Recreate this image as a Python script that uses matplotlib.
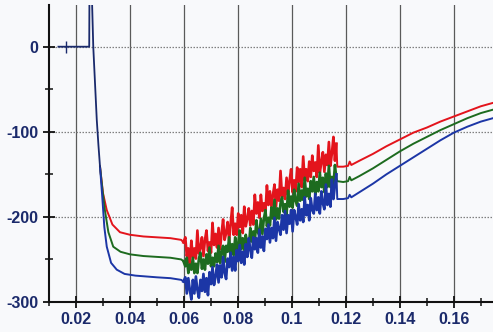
import numpy as np
import matplotlib

matplotlib.use("Agg")
import matplotlib.pyplot as plt
from matplotlib.ticker import MultipleLocator

# 平坦段与尖峰（三条曲线共用）
flat_x = [0.0135, 0.0160, 0.0185, 0.0215, 0.0249, 0.0250, 0.0258, 0.0264, 0.0277, 0.0283, 0.0289]
flat_y = [0, 0, 0, 0, 0, 70, 70, 0, -86, -115, -141]
event_x = [0.0163]

# 下降后的平台段
red_decay_x = [0.0289, 0.0300, 0.0314, 0.0335, 0.0363, 0.040, 0.045, 0.050, 0.055, 0.0590, 0.0598]
red_decay_y = [-141, -172, -192, -209, -218, -221, -223, -224, -225, -227, -230]
green_decay_x = [0.0289, 0.0298, 0.0307, 0.0320, 0.0338, 0.0365, 0.040, 0.045, 0.050, 0.055, 0.0590, 0.0598]
green_decay_y = [-141, -168, -192, -218, -235, -241, -244, -246, -247, -248, -250, -252]
blue_decay_x = [0.0289, 0.0297, 0.0305, 0.0314, 0.0330, 0.0351, 0.0380, 0.042, 0.046, 0.050, 0.055, 0.0590, 0.0598]
blue_decay_y = [-141, -175, -212, -235, -254, -262, -267, -269, -270, -271, -272, -274, -276]

# 噪声段 0.0605 ~ 0.1165（等间隔采样）
noise_start, noise_stop = 0.0605, 0.1165
red_noise = [-224, -246, -237, -255, -228, -247, -237, -249, -216, -243,
             -236, -224, -246, -227, -216, -240, -230, -242, -207, -233,
             -220, -236, -213, -238, -219, -203, -227, -219, -206, -228,
             -208, -189, -221, -208, -221, -196, -212, -198, -219, -188,
             -211, -202, -190, -210, -193, -209, -174, -196, -183, -201,
             -174, -193, -184, -195, -163, -186, -170, -188, -174, -162,
             -188, -168, -181, -146, -176, -166, -179, -154, -174, -157,
             -144, -171, -157, -170, -142, -159, -144, -165, -129, -157,
             -144, -158, -135, -153, -128, -146, -136, -153, -116, -148,
             -136, -124, -147, -127, -139, -112, -140, -125, -106, -134,
             -114]
green_noise = [-258, -248, -266, -256, -262, -248, -266, -255, -266, -249,
               -242, -261, -250, -262, -244, -255, -236, -258, -248, -258,
               -243, -253, -234, -254, -241, -234, -253, -234, -241, -224,
               -245, -232, -245, -224, -239, -231, -216, -238, -225, -239,
               -221, -231, -236, -213, -229, -217, -229, -204, -218, -222,
               -202, -220, -202, -192, -211, -201, -210, -189, -202, -180,
               -203, -190, -202, -184, -177, -194, -185, -197, -169, -188,
               -176, -189, -168, -181, -187, -161, -181, -169, -180, -154,
               -176, -167, -179, -158, -170, -153, -174, -159, -170, -148,
               -165, -154, -171, -149, -165, -140, -165, -153, -163, -139,
               -156]
blue_noise = [-271, -290, -272, -286, -297, -274, -290, -270, -286, -295,
              -274, -287, -267, -288, -272, -292, -265, -279, -259, -280,
              -270, -256, -277, -257, -271, -247, -266, -273, -249, -259,
              -242, -263, -247, -263, -239, -252, -233, -254, -241, -256,
              -232, -247, -225, -239, -248, -224, -238, -225, -242, -215,
              -236, -223, -240, -214, -226, -209, -230, -213, -225, -201,
              -228, -206, -214, -221, -198, -215, -193, -219, -198, -208,
              -192, -217, -192, -200, -209, -185, -204, -191, -206, -177,
              -198, -186, -204, -178, -192, -196, -173, -192, -177, -196,
              -170, -184, -191, -162, -186, -173, -188, -156, -179, -163,
              -150]

# 尾段（平滑上升）
tail_x = [0.1168, 0.1190, 0.1208, 0.1214, 0.1220, 0.125, 0.130, 0.135, 0.140, 0.145, 0.150, 0.155, 0.160, 0.165, 0.170, 0.1745]
red_tail = [-141, -141, -140, -135, -139, -134, -126, -117, -109, -101, -95, -88, -82, -76, -70, -66]
green_tail = [-158, -159, -158, -153, -157, -152, -143, -133, -123, -114, -106, -98, -91, -84, -78, -74]
blue_tail = [-179, -179, -178, -174, -177, -171, -161, -150, -140, -130, -120, -110, -101, -94, -88, -84]

x_ticks = [0.02, 0.04, 0.06, 0.08, 0.1, 0.12, 0.14, 0.16]
x_tick_labels = ["0.02", "0.04", "0.06", "0.08", "0.1", "0.12", "0.14", "0.16"]
y_ticks = [0, -100, -200, -300]
y_tick_labels = ["0", "-100", "-200", "-300"]

RED = "#e3141c"
GREEN = "#1d6b1f"
BLUE = "#1c36a6"
NAVY = "#1a2a6c"
TEXT = "#1b2a6b"

plt.rcParams["font.family"] = ["Liberation Sans", "DejaVu Sans"]

figure = plt.figure(figsize=(4.93, 3.32), dpi=100, facecolor="#f8f9fb")
axis = figure.add_axes([49 / 493, 30 / 332, 1 - 49 / 493, 1 - 35 / 332])
axis.set_facecolor("#f8f9fb")
axis.set_xlim(0.0100, 0.1745)
axis.set_ylim(-300, 49)

# 网格：竖线实线、横线点线
for xv in x_ticks:
    axis.axvline(xv, color="#5a5a5a", linewidth=0.9, zorder=1)
for yv in y_ticks[:-1]:
    axis.axhline(yv, color="#808080", linewidth=0.9, linestyle=(0, (1.2, 1.2)), zorder=1)

noise_x = np.linspace(noise_start, noise_stop, len(red_noise))

series = [
    (red_decay_x, red_decay_y, red_noise, red_tail, RED),
    (green_decay_x, green_decay_y, green_noise, green_tail, GREEN),
    (blue_decay_x, blue_decay_y, blue_noise, blue_tail, BLUE),
]
for decay_x, decay_y, noise_y, tail_y, color in series:
    axis.plot(decay_x, decay_y, color=color, linewidth=1.4, zorder=3)
    axis.plot([decay_x[-1]] + list(noise_x), [decay_y[-1]] + list(noise_y),
              color=color, linewidth=1.9, zorder=3)
    axis.plot([noise_x[-1]] + tail_x, [noise_y[-1]] + tail_y, color=color, linewidth=1.4, zorder=3)

axis.plot(flat_x, flat_y, color=NAVY, linewidth=1.3, zorder=4)
axis.plot(event_x, [0] * len(event_x), marker="|", markersize=8, color=NAVY, zorder=4)

for side in ("top", "right"):
    axis.spines[side].set_visible(False)
for side in ("left", "bottom"):
    axis.spines[side].set_color("#111111")
    axis.spines[side].set_linewidth(1.5)

axis.set_xticks(x_ticks, labels=x_tick_labels)
axis.set_yticks(y_ticks, labels=y_tick_labels)
axis.xaxis.set_minor_locator(MultipleLocator(0.01))
axis.yaxis.set_minor_locator(MultipleLocator(50))
axis.tick_params(which="major", direction="inout", length=9, width=1.3, color="#111111",
                 labelsize=11.5, labelcolor=TEXT, pad=3)
axis.tick_params(which="minor", direction="inout", length=6, width=1.1, color="#111111")
for label in axis.get_xticklabels() + axis.get_yticklabels():
    label.set_fontweight("bold")

figure.savefig("out.png", dpi=100, facecolor=figure.get_facecolor())
plt.close(figure)
